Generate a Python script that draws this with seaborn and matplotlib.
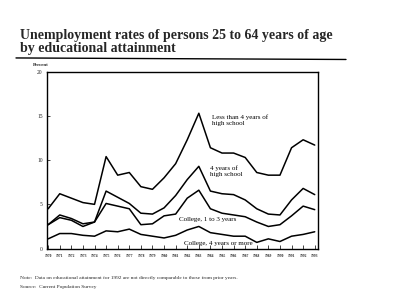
import numpy as np
import pandas as pd
import matplotlib.pyplot as plt
import matplotlib.lines as mlines
import seaborn as sns

years = list(range(1970, 1994))

less_than_hs = [4.5, 6.2, 5.7, 5.2, 5.0, 10.4, 8.3, 8.6, 7.0, 6.7, 8.0, 9.6,
                12.3, 15.3, 11.4, 10.8, 10.8, 10.3, 8.6, 8.3, 8.3, 11.4, 12.3, 11.7]
hs_4yrs = [2.7, 3.8, 3.4, 2.8, 3.0, 6.5, 5.8, 5.1, 4.0, 3.9, 4.6, 6.0,
           7.8, 9.3, 6.5, 6.2, 6.1, 5.5, 4.5, 3.9, 3.8, 5.5, 6.8, 6.1]
college_1_3 = [2.7, 3.5, 3.2, 2.5, 3.0, 5.1, 4.8, 4.5, 2.7, 2.8, 3.7, 3.9,
               5.7, 6.6, 4.5, 4.0, 3.8, 3.6, 3.0, 2.5, 2.7, 3.7, 4.8, 4.4]
college_4plus = [1.1, 1.7, 1.7, 1.5, 1.4, 2.0, 1.9, 2.2, 1.6, 1.4, 1.2, 1.5,
                 2.1, 2.5, 1.8, 1.6, 1.4, 1.4, 0.7, 1.1, 0.8, 1.4, 1.6, 1.9]

series_names = ['Less than 4 years of\nhigh school', '4 years of\nhigh school',
                'College, 1 to 3 years', 'College, 4 years or more']

df = pd.DataFrame({'year': years,
                   series_names[0]: less_than_hs,
                   series_names[1]: hs_4yrs,
                   series_names[2]: college_1_3,
                   series_names[3]: college_4plus})
df = df.melt('year', var_name='group', value_name='rate')

sns.set_style('white')
plt.rcParams['font.family'] = ['Liberation Serif', 'DejaVu Serif']

fig = plt.figure(figsize=(4, 3.05), dpi=100)
ax = fig.add_axes([0.1175, 0.185, 0.678, 0.58])

sns.lineplot(data=df, x='year', y='rate', hue='group',
             palette=['k'] * 4, linewidth=1.1, legend=False, ax=ax)

ax.set_xlim(1969.9, 1993.3)
ax.set_ylim(0, 20)
ax.set_xticks(years)
ax.set_xticklabels([str(y) for y in years], fontsize=2.6, fontweight='bold')
ax.set_yticks([0, 5, 10, 15, 20])
ax.set_yticklabels(['0', '5', '10', '15', '20'], fontsize=4)
ax.tick_params(axis='x', direction='in', length=3, width=0.6, pad=4, bottom=True)
ax.tick_params(axis='y', direction='in', length=2, width=0.6, pad=3, left=True)
ax.set_xlabel('')
ax.set_ylabel('')
for s in ax.spines.values():
    s.set_color('k')
    s.set_linewidth(1.0)

# series labels
lbl = dict(fontsize=5, color='k')
ax.text(1984.1, 15.2, series_names[0], va='top', **lbl)
ax.text(1984.0, 9.4, series_names[1], va='top', **lbl)
ax.text(1981.3, 3.3, series_names[2], va='center', **lbl)
ax.text(1981.7, 0.55, series_names[3], va='center', **lbl)

# title block
fig.text(0.05, 0.905, 'Unemployment rates of persons 25 to 64 years of age\nby educational attainment',
         fontsize=10, fontweight='bold', va='top', linespacing=1.0)
fig.add_artist(mlines.Line2D([0.04, 0.865], [0.81, 0.805], color='k', linewidth=1.0))
fig.text(0.082, 0.782, 'Percent', fontsize=3.5, fontweight='bold')

fig.text(0.05, 0.085, 'Note:  Data on educational attainment for 1992 are not directly comparable to those from prior years.',
         fontsize=3.9)
fig.text(0.05, 0.055, 'Source:  Current Population Survey', fontsize=3.9)

plt.savefig('out.png', dpi=100)
